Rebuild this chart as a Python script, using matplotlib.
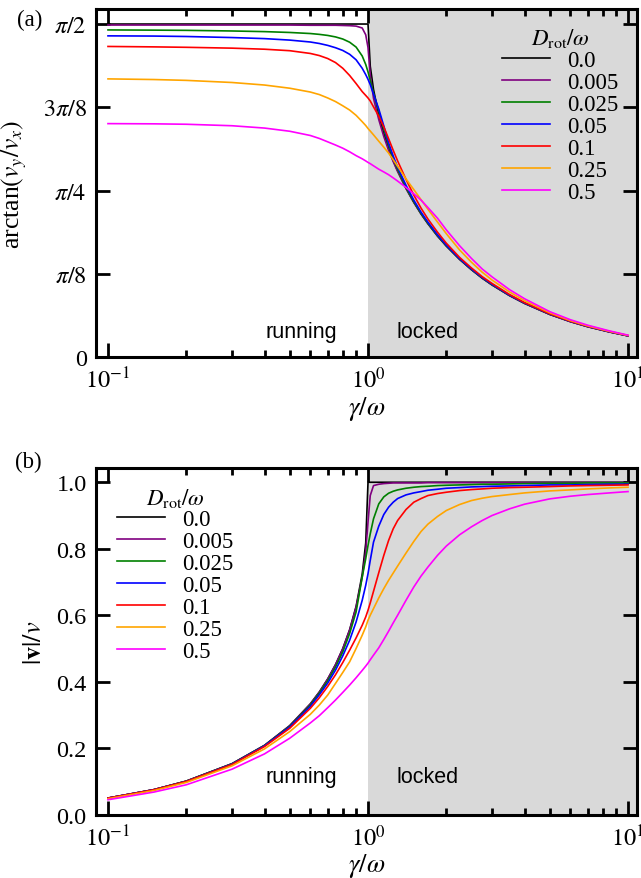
import numpy as np
import matplotlib
matplotlib.use("Agg")
from matplotlib import pyplot as plt

plt.rcParams['font.family'] = ['Liberation Serif', 'DejaVu Serif']
plt.rcParams['mathtext.fontset'] = 'stix'
plt.rcParams['font.size'] = 17.5

# gamma / omega sample points
gamma = [0.1, 0.15, 0.2, 0.3, 0.4, 0.5, 0.6, 0.65, 0.7, 0.75,
         0.8, 0.85, 0.9, 0.95, 0.98, 1.0, 1.02, 1.05, 1.1, 1.15,
         1.2, 1.25, 1.3, 1.4, 1.5, 1.6, 1.7, 1.85, 2.0, 2.25,
         2.5, 2.75, 3.0, 3.5, 4.0, 5.0, 6.0, 7.0, 8.5, 10.0]

d_rot = ['0.0', '0.005', '0.025', '0.05', '0.1', '0.25', '0.5']
colors = ['black', 'purple', 'green', 'blue', 'red', 'orange', 'magenta']

# arctan(v_y / v_x)
angle_0 = [1.5708, 1.5708, 1.5708, 1.5708, 1.5708, 1.5708, 1.5708, 1.5708, 1.5708, 1.5708,
           1.5708, 1.5708, 1.5708, 1.5708, 1.5708, 1.5708, 1.372, 1.262, 1.141, 1.054,
           0.985, 0.927, 0.878, 0.796, 0.730, 0.675, 0.629, 0.571, 0.524, 0.461,
           0.412, 0.372, 0.340, 0.290, 0.253, 0.201, 0.167, 0.143, 0.118, 0.100]
angle_005 = [1.566, 1.566, 1.566, 1.566, 1.566, 1.566, 1.565, 1.565, 1.565, 1.565,
             1.564, 1.563, 1.561, 1.552, 1.520, 1.460, 1.330, 1.220, 1.120, 1.040,
             0.975, 0.922, 0.875, 0.795, 0.730, 0.675, 0.629, 0.571, 0.524, 0.461,
             0.412, 0.372, 0.340, 0.290, 0.253, 0.201, 0.167, 0.143, 0.118, 0.100]
angle_025 = [1.543, 1.542, 1.541, 1.538, 1.535, 1.531, 1.526, 1.522, 1.517, 1.510,
             1.500, 1.485, 1.462, 1.420, 1.380, 1.345, 1.305, 1.245, 1.160, 1.075,
             1.000, 0.938, 0.885, 0.800, 0.733, 0.677, 0.631, 0.573, 0.525, 0.462,
             0.413, 0.373, 0.341, 0.291, 0.254, 0.202, 0.168, 0.144, 0.119, 0.100]
angle_05 = [1.515, 1.514, 1.512, 1.507, 1.502, 1.495, 1.486, 1.479, 1.470, 1.459,
            1.446, 1.428, 1.402, 1.362, 1.332, 1.310, 1.285, 1.240, 1.170, 1.090,
            1.010, 0.948, 0.895, 0.810, 0.740, 0.683, 0.636, 0.577, 0.528, 0.464,
            0.415, 0.375, 0.343, 0.292, 0.255, 0.203, 0.168, 0.144, 0.119, 0.100]
angle_1 = [1.465, 1.463, 1.461, 1.457, 1.452, 1.445, 1.432, 1.422, 1.408, 1.389,
           1.362, 1.328, 1.290, 1.252, 1.234, 1.222, 1.208, 1.180, 1.136, 1.086,
           1.030, 0.975, 0.925, 0.838, 0.764, 0.702, 0.651, 0.589, 0.537, 0.470,
           0.420, 0.379, 0.347, 0.295, 0.257, 0.204, 0.169, 0.145, 0.120, 0.101]
angle_25 = [1.312, 1.309, 1.305, 1.295, 1.283, 1.268, 1.250, 1.238, 1.222, 1.205,
            1.185, 1.165, 1.140, 1.110, 1.092, 1.078, 1.066, 1.048, 1.018, 0.990,
            0.962, 0.931, 0.900, 0.840, 0.790, 0.742, 0.697, 0.637, 0.582, 0.505,
            0.447, 0.400, 0.363, 0.307, 0.266, 0.209, 0.172, 0.147, 0.121, 0.102]
angle_5 = [1.101, 1.100, 1.098, 1.091, 1.080, 1.065, 1.045, 1.031, 1.015, 1.000,
           0.985, 0.968, 0.950, 0.935, 0.925, 0.918, 0.912, 0.902, 0.886, 0.873,
           0.860, 0.845, 0.830, 0.800, 0.770, 0.740, 0.705, 0.655, 0.600, 0.525,
           0.465, 0.415, 0.378, 0.318, 0.275, 0.214, 0.176, 0.150, 0.123, 0.103]

# |v| / v
speed_0 = [0.0501, 0.0754, 0.1010, 0.1535, 0.2087, 0.2679, 0.3333, 0.3693, 0.4084, 0.4514,
           0.5000, 0.5567, 0.6268, 0.7240, 0.8174, 1.0, 1.0, 1.0, 1.0, 1.0,
           1.0, 1.0, 1.0, 1.0, 1.0, 1.0, 1.0, 1.0, 1.0, 1.0,
           1.0, 1.0, 1.0, 1.0, 1.0, 1.0, 1.0, 1.0, 1.0, 1.0]
speed_005 = [0.050, 0.0753, 0.101, 0.1535, 0.2085, 0.2675, 0.333, 0.369, 0.408, 0.451,
             0.499, 0.555, 0.624, 0.715, 0.790, 0.880, 0.960, 0.990, 0.994, 0.996,
             0.997, 0.998, 0.998, 0.998, 0.998, 0.998, 0.999, 0.999, 0.999, 0.999,
             0.999, 0.999, 0.999, 0.999, 0.999, 0.999, 0.999, 0.999, 0.999, 0.999]
speed_025 = [0.050, 0.0752, 0.101, 0.153, 0.208, 0.266, 0.330, 0.366, 0.403, 0.444,
             0.490, 0.545, 0.610, 0.715, 0.770, 0.810, 0.845, 0.890, 0.935, 0.956,
             0.967, 0.973, 0.977, 0.982, 0.985, 0.987, 0.988, 0.990, 0.991, 0.992,
             0.993, 0.994, 0.994, 0.995, 0.996, 0.997, 0.997, 0.998, 0.998, 0.998]
speed_05 = [0.050, 0.0751, 0.100, 0.152, 0.207, 0.264, 0.326, 0.361, 0.396, 0.435,
            0.478, 0.525, 0.580, 0.645, 0.690, 0.725, 0.765, 0.820, 0.868, 0.903,
            0.925, 0.940, 0.951, 0.962, 0.968, 0.972, 0.976, 0.979, 0.982, 0.984,
            0.986, 0.987, 0.988, 0.989, 0.990, 0.992, 0.992, 0.993, 0.994, 0.994]
speed_1 = [0.050, 0.075, 0.100, 0.151, 0.205, 0.260, 0.320, 0.352, 0.386, 0.421,
           0.458, 0.495, 0.532, 0.570, 0.595, 0.615, 0.637, 0.672, 0.728, 0.780,
           0.825, 0.860, 0.885, 0.918, 0.940, 0.951, 0.960, 0.966, 0.970, 0.975,
           0.978, 0.980, 0.982, 0.984, 0.985, 0.987, 0.989, 0.990, 0.991, 0.992]
speed_25 = [0.048, 0.0725, 0.097, 0.147, 0.198, 0.250, 0.302, 0.330, 0.360, 0.395,
            0.428, 0.460, 0.500, 0.540, 0.565, 0.585, 0.600, 0.620, 0.652, 0.680,
            0.705, 0.727, 0.748, 0.787, 0.822, 0.852, 0.874, 0.897, 0.915, 0.933,
            0.945, 0.952, 0.957, 0.963, 0.968, 0.974, 0.977, 0.980, 0.983, 0.985]
speed_5 = [0.045, 0.068, 0.090, 0.137, 0.183, 0.230, 0.276, 0.298, 0.322, 0.345,
           0.368, 0.390, 0.412, 0.434, 0.447, 0.456, 0.466, 0.480, 0.502, 0.527,
           0.552, 0.577, 0.600, 0.645, 0.685, 0.718, 0.745, 0.780, 0.808, 0.842,
           0.866, 0.885, 0.900, 0.920, 0.934, 0.950, 0.958, 0.963, 0.968, 0.972]

angles = [angle_0, angle_005, angle_025, angle_05, angle_1, angle_25, angle_5]
speeds = [speed_0, speed_005, speed_025, speed_05, speed_1, speed_25, speed_5]

fig = plt.figure(figsize=(6.41, 8.79), dpi=100)
ax1 = fig.add_axes([0.1505, 0.5927, 0.8433, 0.3959])
ax2 = fig.add_axes([0.1505, 0.0720, 0.8433, 0.3941])


def style_axis(ax, text_y):
    ax.set_xscale('log')
    ax.set_xlim(0.0903, 10.83)
    ax.axvspan(1.0, 20.0, color='#d9d9d9', lw=0, zorder=0)
    for s in ax.spines.values():
        s.set_linewidth(2.2)
    ax.tick_params(which='both', direction='in', top=True, right=True, width=2.0)
    ax.tick_params(which='major', length=10, pad=7)
    ax.tick_params(which='minor', length=5)
    ax.set_xticks([0.1, 1, 10])
    ax.set_xticklabels([r'$10^{-1}$', r'$10^{0}$', r'$10^{1}$'])
    ax.set_xlabel(r'$\gamma/\omega$', fontsize=19, labelpad=1)
    ax.text(0.76, text_y, 'running', family='Liberation Sans', fontsize=15.5,
            ha='right', va='center', transform=ax.get_xaxis_transform())
    ax.text(1.283, text_y, 'locked', family='Liberation Sans', fontsize=15.5,
            ha='left', va='center', transform=ax.get_xaxis_transform())


legend_kw = dict(frameon=False, title=r'$D_\mathrm{rot}/\omega$', handlelength=2.1,
                 labelspacing=0.04, handletextpad=0.75, borderaxespad=0.2,
                 fontsize=16.5, title_fontsize=16.5)

style_axis(ax1, 0.072)
for a, c, lab in zip(angles, colors, d_rot):
    ax1.plot(gamma, a, color=c, lw=1.2, label=lab)
ax1.set_ylim(0, 1.6416)
ax1.set_yticks([0, np.pi / 8, np.pi / 4, 3 * np.pi / 8, np.pi / 2])
ax1.set_yticklabels(['0', r'$\pi/8$', r'$\pi/4$', r'$3\pi/8$', r'$\pi/2$'])
ax1.set_ylabel(r'arctan$(v_y/v_x)$', fontsize=18.5)
ax1.yaxis.set_label_coords(-0.124, 0.5)
ax1.legend(loc='upper right', bbox_to_anchor=(0.991, 0.99), **legend_kw)
ax1.text(-0.147, 0.971, '(a)', transform=ax1.transAxes, fontsize=16.5, va='center')

style_axis(ax2, 0.109)
for s, c, lab in zip(speeds, colors, d_rot):
    ax2.plot(gamma, s, color=c, lw=1.2, label=lab)
ax2.set_ylim(0, 1.042)
ax2.set_yticks([0.0, 0.2, 0.4, 0.6, 0.8, 1.0])
ax2.set_yticklabels(['0.0', '0.2', '0.4', '0.6', '0.8', '1.0'])
ax2.set_ylabel(r'$|\mathbf{v}|/v$', fontsize=19)
ax2.yaxis.set_label_coords(-0.093, 0.5)
ax2.legend(loc='upper left', bbox_to_anchor=(0.013, 0.99), **legend_kw)
ax2.text(-0.15, 1.021, '(b)', transform=ax2.transAxes, fontsize=16.5, va='center')

fig.savefig('out.png', dpi=100)
